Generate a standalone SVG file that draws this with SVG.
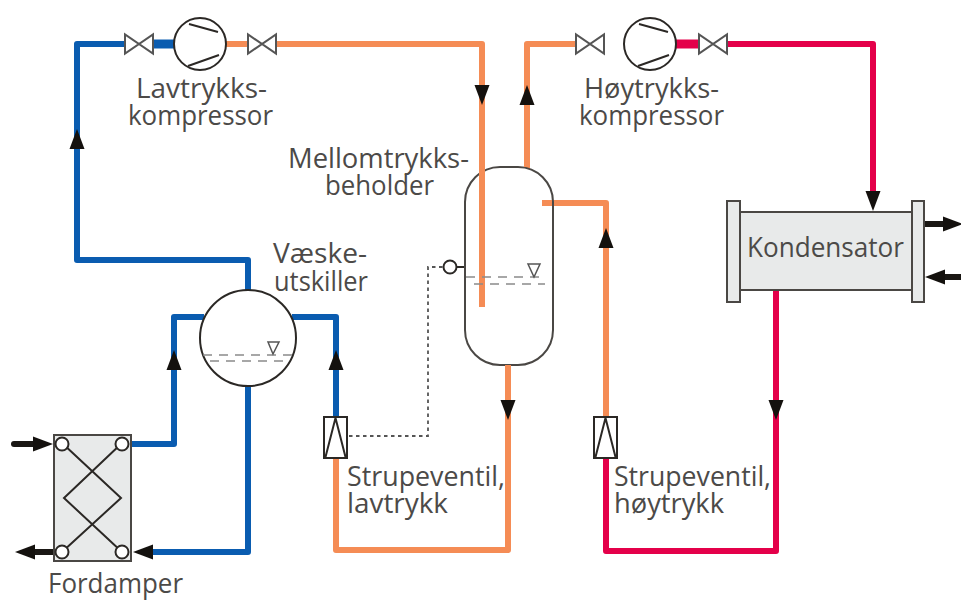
<svg xmlns="http://www.w3.org/2000/svg" width="961" height="601" viewBox="0 0 961 601">
<style>
.p{fill:none;stroke-width:6;stroke-linejoin:round}
.b{stroke:#0a5cb0}.o{stroke:#f58c55}.r{stroke:#e4004a}
.k{fill:none;stroke:#1a1714;stroke-width:6;stroke-linecap:round}
.h{fill:#14110e}
.s{fill:#fff;stroke:#2b2825;stroke-width:2}
.v{fill:#fff;stroke:#555;stroke-width:2}
.g{fill:#e8eaea;stroke:#4a4744;stroke-width:2}
.l{fill:none;stroke:#2b2825;stroke-width:2}
.d{fill:none;stroke:#8a8a8a;stroke-width:1.500;stroke-dasharray:9 7}
.dt{fill:none;stroke:#555;stroke-width:1.800;stroke-dasharray:3.500 3.500}
text{font-family:"Open Sans","Noto Sans","Liberation Sans",sans-serif;font-size:28px;fill:#4c4a48}
</style>
<defs>
<g id="valve"><rect x="0" y="-9" width="28" height="18" fill="#fff"/><path class="v" d="M0-9.500V9.500L28-9.500V9.500Z"/></g>
<g id="comp"><circle class="s" r="26"/><path class="l" d="M-11-20L18-12M-12 22L19 11"/></g>
<g id="thr"><rect class="s" x="-11.500" y="0" width="23" height="41"/><path class="l" d="M-10 40L0 1L10 40"/></g>
<path id="up" class="h" d="M0-10L7.500 10H-7.500Z"/>
</defs>
<g id="connectors">
<path class="p b" d="M174 44H77V260H248V290"/>
<path class="p b" d="M132 444H174V317H204"/>
<path class="p b" d="M292 317H336V417"/>
<path class="p b" d="M248 386V552H150"/>
<path class="p o" d="M226 44H482V307"/>
<path class="p o" d="M576 44H527V168"/>
<path class="p o" d="M542 203H606V417"/>
<path class="p o" d="M336 458V550H508V364"/>
<path class="p r" d="M676 44H873V195"/>
<path class="p r" d="M606 458V551H776V290"/>
<path d="M153 44H176" fill="none" stroke-width="9" stroke="#0a5cb0"/>
<path d="M676 44H699" fill="none" stroke-width="9" stroke="#e4004a"/>
<use href="#up" x="77" y="139"/>
<use href="#up" x="174" y="360"/>
<use href="#up" x="336" y="360"/>
<use href="#up" transform="translate(482 95) rotate(180)"/>
<use href="#up" x="527" y="95"/>
<use href="#up" x="606" y="238"/>
<use href="#up" transform="translate(508 410) rotate(180)"/>
<use href="#up" transform="translate(776 410) rotate(180)"/>
<use href="#up" transform="translate(873 201) rotate(180)"/>
<use href="#up" transform="translate(143 552) rotate(-90)"/>
<path class="k" d="M14 444H38"/><use href="#up" transform="translate(43 444) rotate(90)"/>
<path class="k" d="M33 552H54"/><use href="#up" transform="translate(25 552) rotate(-90)"/>
<path class="k" d="M924 224H950"/><use href="#up" transform="translate(953 224) rotate(90)"/>
<path class="k" d="M940 277H961"/><use href="#up" transform="translate(935 277) rotate(-90)"/>
<path class="dt" d="M349 436H428V267H443"/>
</g>
<g id="lavtrykkskompressor">
<use href="#valve" x="125" y="44"/><use href="#comp" x="200" y="44"/><use href="#valve" x="248" y="44"/>
<text x="136" y="98" textLength="131" lengthAdjust="spacingAndGlyphs">Lavtrykks-</text><text x="128" y="125" textLength="145" lengthAdjust="spacingAndGlyphs">kompressor</text>
</g>
<g id="hoytrykkskompressor">
<use href="#valve" x="576" y="44"/><use href="#comp" x="650" y="44"/><use href="#valve" x="699" y="44"/>
<text x="584" y="98" textLength="135" lengthAdjust="spacingAndGlyphs">Høytrykks-</text><text x="579" y="125" textLength="145" lengthAdjust="spacingAndGlyphs">kompressor</text>
</g>
<g id="vaeskeutskiller">
<circle class="s" cx="248" cy="338" r="48"/>
<path class="d" d="M203 355H293M210 361H286"/>
<path class="v" style="stroke-width:1.500" d="M268 342H279L273 354Z"/>
<text x="273" y="263" textLength="94" lengthAdjust="spacingAndGlyphs">Væske-</text><text x="274" y="291" textLength="94" lengthAdjust="spacingAndGlyphs">utskiller</text>
</g>
<g id="mellomtrykksbeholder">
<rect x="465" y="167" width="88" height="198" rx="35" ry="35" fill="#fff" stroke="#4a4744" stroke-width="2"/>
<path class="p o" d="M482 150V307M527 150V167M508 365V380M542 203H552"/>
<path class="d" d="M466 277H543M474 284H545"/>
<path class="v" style="stroke-width:1.500" d="M528 264H540L534 277Z"/>
<path class="l" d="M456 267H464"/><circle class="s" cx="450" cy="267" r="6.500"/>
<text x="288" y="168" textLength="181" lengthAdjust="spacingAndGlyphs">Mellomtrykks-</text><text x="325" y="195" textLength="109" lengthAdjust="spacingAndGlyphs">beholder</text>
</g>
<g id="kondensator">
<rect class="g" x="740" y="212" width="172" height="78"/>
<rect class="g" x="727" y="201" width="13" height="101"/>
<rect class="g" x="912" y="201" width="12" height="101"/>
<text x="747" y="257" textLength="157" lengthAdjust="spacingAndGlyphs">Kondensator</text>
</g>
<g id="strupeventil-lavtrykk">
<use href="#thr" x="335.500" y="417"/>
<text x="347" y="486" textLength="158" lengthAdjust="spacingAndGlyphs">Strupeventil,</text><text x="347" y="513" textLength="101" lengthAdjust="spacingAndGlyphs">lavtrykk</text>
</g>
<g id="strupeventil-hoytrykk">
<use href="#thr" x="605.500" y="417"/>
<text x="614" y="486" textLength="157" lengthAdjust="spacingAndGlyphs">Strupeventil,</text><text x="614" y="513" textLength="110" lengthAdjust="spacingAndGlyphs">høytrykk</text>
</g>
<g id="fordamper">
<rect class="g" x="54" y="435" width="77" height="126"/>
<path class="l" d="M62 443L121 498L62 552M122 443L64 498L122 552"/>
<circle class="s" cx="62" cy="444" r="6.500"/><circle class="s" cx="122" cy="444" r="6.500"/>
<circle class="s" cx="62" cy="552" r="6.500"/><circle class="s" cx="122" cy="552" r="6.500"/>
<text x="48" y="593" style="font-size:27px" textLength="135" lengthAdjust="spacingAndGlyphs">Fordamper</text>
</g>
</svg>
